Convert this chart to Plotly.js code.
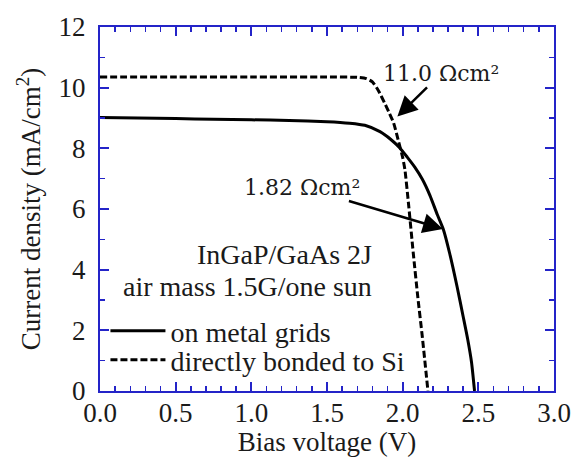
<!DOCTYPE html>
<html>
<head>
<meta charset="utf-8">
<script src="https://cdn.plot.ly/plotly-3.0.1.min.js"></script>
<style>html,body{margin:0;padding:0;background:#fff;}</style>
</head>
<body>
<div id="chart" style="width:574px;height:457px;"></div>
<script>
// Solid: on metal grids
const voltGrid = [0.00, 0.25, 0.50, 0.75, 1.00, 1.25, 1.50, 1.65, 1.75, 1.85, 1.92, 1.98, 2.03, 2.08, 2.13, 2.18, 2.23, 2.27, 2.31, 2.36, 2.40, 2.43, 2.455, 2.475];
const currGrid = [9.02, 9.00, 8.98, 8.96, 8.94, 8.92, 8.88, 8.83, 8.76, 8.55, 8.30, 8.02, 7.71, 7.38, 6.98, 6.45, 5.80, 5.31, 4.55, 3.43, 2.45, 1.70, 0.95, 0.00];
// Dashed: directly bonded to Si
const voltSi = [0.00, 0.50, 1.00, 1.50, 1.70, 1.76, 1.80, 1.84, 1.88, 1.91, 1.94, 1.97, 2.00, 2.015, 2.04, 2.07, 2.10, 2.13, 2.167];
const currSi = [10.35, 10.35, 10.35, 10.35, 10.34, 10.30, 10.19, 9.90, 9.50, 9.18, 8.84, 8.28, 7.70, 7.29, 6.10, 4.55, 3.10, 1.78, 0.00];
const seriesNames = ["on metal grids", "directly bonded to Si"];
const xTickVals = [0, 0.5, 1.0, 1.5, 2.0, 2.5, 3.0];
const xTickText = ["0.0", "0.5", "1.0", "1.5", "2.0", "2.5", "3.0"];
const yTickVals = [0, 2, 4, 6, 8, 10, 12];
const yTickText = ["0", "2", "4", "6", "8", "10", "12"];
const resLabels = ["11.0 Ωcm²", "1.82 Ωcm²"];
const resPoints = [[1.965, 9.05], [2.266, 5.34]];
const infoLines = ["InGaP/GaAs 2J", "air mass 1.5G/one sun"];

const FONT = "Liberation Serif";
const AX = "#2424c8";
const TXT = "#1a1a1a";

const traces = [
  {x: voltGrid, y: currGrid, name: seriesNames[0], mode: "lines", type: "scatter", legend: "legend",
   line: {color: "#000", width: 3, shape: "spline", smoothing: 0.6}},
  {x: voltSi, y: currSi, name: seriesNames[1], mode: "lines", type: "scatter", legend: "legend2",
   line: {color: "#000", width: 3, dash: "7px,3px", shape: "spline", smoothing: 0.6}}
];

const axisCommon = {
  showline: true, linecolor: AX, linewidth: 2, mirror: "ticks",
  ticks: "inside", ticklen: 9, tickwidth: 2, tickcolor: AX,
  showgrid: false, zeroline: false,
  tickfont: {family: FONT, size: 27, color: TXT}
};

const legendCommon = {
  xanchor: "left", yanchor: "middle", bgcolor: "rgba(0,0,0,0)",
  font: {family: FONT, size: 28, color: TXT}, itemwidth: 55
};

const layout = {
  width: 574, height: 457,
  margin: {l: 100, r: 20, t: 27, b: 66},
  paper_bgcolor: "#fff", plot_bgcolor: "#fff",
  font: {family: FONT, color: TXT},
  showlegend: true,
  legend: Object.assign({}, legendCommon, {x: 0.012, y: 0.165}),
  legend2: Object.assign({}, legendCommon, {x: 0.012, y: 0.085}),
  xaxis: Object.assign({}, axisCommon, {
    range: [0, 3.0], tickvals: xTickVals, ticktext: xTickText,
    minor: {dtick: 0.1, ticks: "inside", ticklen: 5, tickwidth: 1.5, tickcolor: AX},
    ticklabelstandoff: -3,
    title: {text: "Bias voltage (V)", font: {family: FONT, size: 27, color: TXT}, standoff: 8}
  }),
  yaxis: Object.assign({}, axisCommon, {
    range: [0, 12], tickvals: yTickVals, ticktext: yTickText,
    minor: {dtick: 1, ticks: "inside", ticklen: 5, tickwidth: 1.5, tickcolor: AX},
    ticklabelstandoff: 7,
    title: {text: "Current density (mA/cm<sup>2</sup>)", font: {family: FONT, size: 27, color: TXT}, standoff: 10}
  }),
  annotations: [
    {x: resPoints[0][0], y: resPoints[0][1], xref: "x", yref: "y", text: resLabels[0],
     showarrow: true, ax: 44, ay: -43, arrowhead: 2, arrowsize: 1.6, arrowwidth: 2.5, arrowcolor: "#000",
     font: {family: "DejaVu Serif", size: 22, color: TXT}},
    {x: resPoints[1][0], y: resPoints[1][1], xref: "x", yref: "y", text: resLabels[1],
     showarrow: true, ax: -141, ay: -42, arrowhead: 2, arrowsize: 1.6, arrowwidth: 2.5, arrowcolor: "#000",
     font: {family: "DejaVu Serif", size: 22, color: TXT}},
    {x: 0.603, y: 0.376, xref: "paper", yref: "paper", xanchor: "right", yanchor: "middle",
     text: infoLines[0], showarrow: false, font: {family: FONT, size: 28, color: TXT}},
    {x: 0.603, y: 0.286, xref: "paper", yref: "paper", xanchor: "right", yanchor: "middle",
     text: infoLines[1], showarrow: false, font: {family: FONT, size: 28, color: TXT}}
  ]
};

Plotly.newPlot("chart", traces, layout, {displayModeBar: false, staticPlot: true});
</script>
</body>
</html>
